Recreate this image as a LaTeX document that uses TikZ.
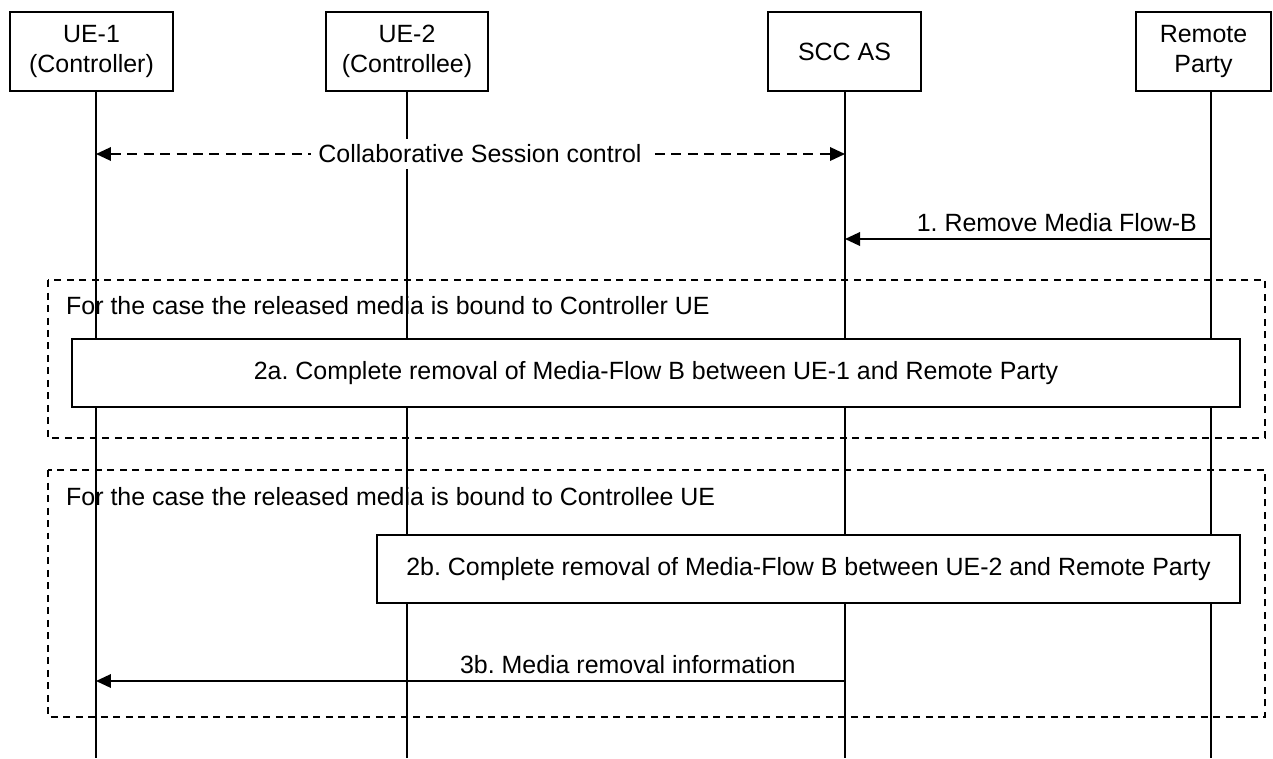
\documentclass[tikz,border=0pt]{standalone}
\usepackage{fontspec}
\setmainfont{Liberation Sans}
\usetikzlibrary{arrows.meta,positioning}
\frenchspacing

\begin{document}
\begin{tikzpicture}[x=0.02cm, y=-0.02cm,
  font=\fontsize{14.2}{17}\selectfont,
  ent/.style={draw, line width=0.8pt, align=center, minimum height=1.58cm, inner sep=2pt},
  life/.style={line width=0.8pt},
  frame/.style={draw, line width=0.7pt, dash pattern=on 0.14cm off 0.11cm},
  stepbox/.style={draw, fill=white, line width=0.8pt, minimum height=1.36cm},
  msg/.style={line width=1.1pt, -{Triangle[length=0.3cm,width=0.27cm]}},
  ctl/.style={line width=1.1pt, dash pattern=on 0.2cm off 0.13cm,
              {Triangle[length=0.3cm,width=0.27cm]}-{Triangle[length=0.3cm,width=0.27cm]}}]
\useasboundingbox (0,0) rectangle (1273,758);
% entities
\node[ent, minimum width=3.26cm] (ue1) at (91.5,51.5) {UE-1\\(Controller)};
\node[ent, minimum width=3.24cm] (ue2) at (407,51.5) {UE-2\\(Controllee)};
\node[ent, minimum width=3.06cm] (scc) at (844.5,51.5) {SCC AS};
\node[ent, minimum width=2.7cm] (rp) at (1203.5,51.5) {Remote\\Party};
\coordinate (ue1b) at (96,758); \coordinate (ue2b) at (407,758);
\coordinate (sccb) at (845,758); \coordinate (rpb) at (1211,758);
% alternative frames
\draw[frame] (48,280) rectangle (1265,438);
\node[anchor=west] (alt1) at (60,306) {For the case the released media is bound to Controller UE};
\draw[frame] (48,470) rectangle (1265,717);
\node[anchor=west] (alt2) at (60,497) {For the case the released media is bound to Controllee UE};
% lifelines
\draw[life] (ue1b |- ue1.south) -- (ue1b);
\draw[life] (ue2b |- ue2.south) -- (ue2b);
\draw[life] (sccb |- scc.south) -- (sccb);
\draw[life] (rpb |- rp.south) -- (rpb);
% rows
\coordinate (r0) at (0,154); \coordinate (r1) at (0,239); \coordinate (r3) at (0,681);
\draw[ctl] (ue1b |- r0) -- (sccb |- r0);
\node[fill=white, inner xsep=4pt] (cc) at (480,154) {Collaborative Session control};
\draw[msg] (rpb |- r1) -- node[pos=0.02, anchor=south east] (m1) {1. Remove Media Flow-B} (sccb |- r1);
\node[stepbox, minimum width=23.36cm] (s2a) at (656,373)
  {2a. Complete removal of Media-Flow B between UE-1 and Remote Party};
\node[stepbox, minimum width=17.26cm] (s2b) at (808.5,569)
  {2b. Complete removal of Media-Flow B between UE-2 and Remote Party};
\draw[msg] (sccb |- r3) -- node[pos=0.29, above] (m3) {3b. Media removal information} (ue1b |- r3);
\end{tikzpicture}
\end{document}
